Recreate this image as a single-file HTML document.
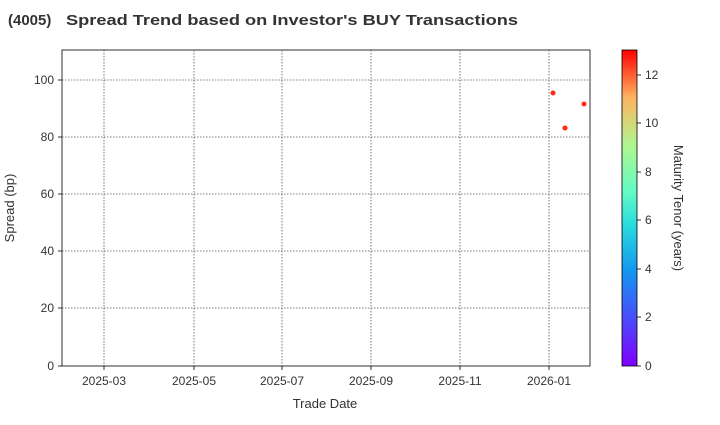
<!DOCTYPE html>
<html><head><meta charset="utf-8"><style>
body{margin:0;background:#fff;font-family:"Liberation Sans",Arial,sans-serif;}
</style></head><body>
<svg width="720" height="420" xmlns="http://www.w3.org/2000/svg" font-family="Liberation Sans, Arial, sans-serif">
<defs>
<linearGradient id="cb" x1="0" y1="1" x2="0" y2="0">
<stop offset="0" stop-color="#8000ff"/>
<stop offset="0.15" stop-color="#4a4cfb"/>
<stop offset="0.3" stop-color="#1496f0"/>
<stop offset="0.45" stop-color="#2adddd"/>
<stop offset="0.55" stop-color="#62fbc4"/>
<stop offset="0.7" stop-color="#b0f68f"/>
<stop offset="0.85" stop-color="#ffb360"/>
<stop offset="1" stop-color="#ff0000"/>
</linearGradient>
</defs>
<text x="8" y="25" font-size="15" font-weight="bold" fill="#333">(4005)</text>
<text x="66" y="25" font-size="15" font-weight="bold" fill="#333" textLength="452" lengthAdjust="spacingAndGlyphs">Spread Trend based on Investor's BUY Transactions</text>
<rect x="62" y="50" width="528" height="316" fill="none" stroke="#000" stroke-width="0.8"/>
<g stroke="#555" stroke-width="0.8" stroke-dasharray="1.5,1.5">
<line x1="104" y1="50" x2="104" y2="366"/><line x1="194" y1="50" x2="194" y2="366"/>
<line x1="282" y1="50" x2="282" y2="366"/><line x1="371" y1="50" x2="371" y2="366"/>
<line x1="460" y1="50" x2="460" y2="366"/><line x1="549" y1="50" x2="549" y2="366"/>
<line x1="62" y1="80" x2="590" y2="80"/><line x1="62" y1="137" x2="590" y2="137"/>
<line x1="62" y1="194" x2="590" y2="194"/><line x1="62" y1="251" x2="590" y2="251"/>
<line x1="62" y1="308" x2="590" y2="308"/>
</g>
<g stroke="#000" stroke-width="0.8">
<line x1="104" y1="366" x2="104" y2="370"/><line x1="194" y1="366" x2="194" y2="370"/>
<line x1="282" y1="366" x2="282" y2="370"/><line x1="371" y1="366" x2="371" y2="370"/>
<line x1="460" y1="366" x2="460" y2="370"/><line x1="549" y1="366" x2="549" y2="370"/>
<line x1="58" y1="80" x2="62" y2="80"/><line x1="58" y1="137" x2="62" y2="137"/>
<line x1="58" y1="194" x2="62" y2="194"/><line x1="58" y1="251" x2="62" y2="251"/>
<line x1="58" y1="308" x2="62" y2="308"/><line x1="58" y1="366" x2="62" y2="366"/>
</g>
<g font-size="12" fill="#333" text-anchor="middle">
<text x="104" y="385">2025-03</text><text x="194" y="385">2025-05</text>
<text x="282" y="385">2025-07</text><text x="371" y="385">2025-09</text>
<text x="460" y="385">2025-11</text><text x="549" y="385">2026-01</text>
<text x="325" y="408" font-size="13">Trade Date</text>
</g>
<g font-size="12" fill="#333" text-anchor="end">
<text x="54" y="84">100</text><text x="54" y="141">80</text><text x="54" y="198">60</text>
<text x="54" y="255">40</text><text x="54" y="312">20</text><text x="54" y="370">0</text>
</g>
<text transform="translate(14,208) rotate(-90)" font-size="13" fill="#333" text-anchor="middle">Spread (bp)</text>
<g fill="#ff2a14">
<circle cx="553" cy="93" r="2.5"/><circle cx="565" cy="128" r="2.5"/><circle cx="584" cy="104" r="2.5"/>
</g>
<rect x="622" y="50" width="15" height="316" fill="url(#cb)" stroke="#000" stroke-width="0.8"/>
<g stroke="#000" stroke-width="0.8">
<line x1="637" y1="366" x2="641" y2="366"/><line x1="637" y1="317" x2="641" y2="317"/>
<line x1="637" y1="269" x2="641" y2="269"/><line x1="637" y1="220" x2="641" y2="220"/>
<line x1="637" y1="172" x2="641" y2="172"/><line x1="637" y1="123" x2="641" y2="123"/>
<line x1="637" y1="75" x2="641" y2="75"/>
</g>
<g font-size="12" fill="#333">
<text x="645" y="370">0</text><text x="645" y="321">2</text><text x="645" y="273">4</text>
<text x="645" y="224">6</text><text x="645" y="176">8</text><text x="645" y="127">10</text>
<text x="645" y="79">12</text>
</g>
<text transform="translate(674,208) rotate(90)" font-size="13" fill="#333" text-anchor="middle">Maturity Tenor (years)</text>
</svg>
</body></html>
